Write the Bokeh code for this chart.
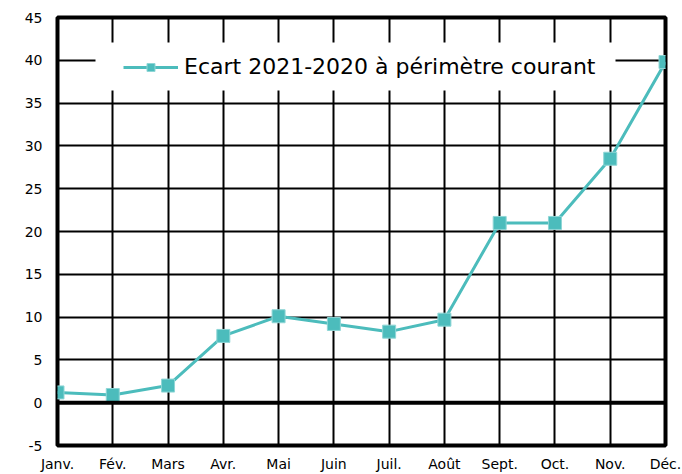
from bokeh.plotting import figure
from bokeh.models import FixedTicker, Span, Legend, LegendItem, CustomJSTickFormatter, BoxAnnotation
from bokeh.embed import file_html
from bokeh.resources import INLINE

months = ["Janv.", "Fév.", "Mars", "Avr.", "Mai", "Juin", "Juil.", "Août", "Sept.", "Oct.", "Nov.", "Déc."]
ecart = [1.2, 0.9, 2.0, 7.8, 10.1, 9.2, 8.3, 9.7, 21.0, 21.0, 28.5, 39.8]
y_ticks = [-5, 0, 5, 10, 15, 20, 25, 30, 35, 40, 45]
series_name = "Ecart 2021-2020 à périmètre courant"

xs = list(range(len(months)))
teal = "#4cbcbc"
font = "DejaVu Sans"

p = figure(width=682, height=474, output_backend="svg", toolbar_location=None,
           x_range=(0, len(months) - 1), y_range=(y_ticks[0], y_ticks[-1]),
           min_border_left=57, min_border_right=17, min_border_top=17, min_border_bottom=29)

p.outline_line_color = "black"
p.outline_line_width = 4
p.background_fill_color = "white"
p.border_fill_color = "white"

p.xaxis.ticker = FixedTicker(ticks=xs)
p.xaxis.formatter = CustomJSTickFormatter(args=dict(labels=months), code="return labels[Math.round(tick)];")
p.yaxis.ticker = FixedTicker(ticks=y_ticks)
p.yaxis.formatter = CustomJSTickFormatter(code="return String(Math.round(tick));")
for ax in (p.xaxis, p.yaxis):
    ax.axis_line_color = None
    ax.major_tick_line_color = None
    ax.minor_tick_line_color = None
    ax.major_tick_out = 0
    ax.major_tick_in = 0
    ax.minor_tick_out = 0
    ax.major_label_text_font = font
    ax.major_label_text_font_size = "14px"
    ax.major_label_text_color = "black"
p.xaxis.major_label_standoff = 10
p.yaxis.major_label_standoff = 15

p.xgrid.ticker = FixedTicker(ticks=xs)
p.ygrid.ticker = FixedTicker(ticks=y_ticks)
for g in (p.xgrid, p.ygrid):
    g.grid_line_color = "black"
    g.grid_line_width = 2
    g.grid_line_alpha = 1

p.add_layout(Span(location=0, dimension="width", line_color="black", line_width=4))

r_line = p.line(xs, ecart, line_color=teal, line_width=3)
r_mark = p.scatter(xs, ecart, marker="square", size=13, fill_color=teal, line_color="#8fd6d6", line_width=1)

# white panel behind the legend (screen units, relative to the plot frame)
p.add_layout(BoxAnnotation(left=38, right=558, bottom=355, top=403,
                           left_units="screen", right_units="screen",
                           bottom_units="screen", top_units="screen",
                           fill_color="white", fill_alpha=1, line_color=None))

legend = Legend(items=[LegendItem(label=series_name, renderers=[r_line, r_mark])],
                location=(66, 366), margin=0, padding=0, glyph_width=55, label_standoff=6,
                spacing=0, background_fill_alpha=0, border_line_color=None,
                label_text_font=font, label_text_font_size="22px", label_text_color="black")
p.add_layout(legend)

open("out.html", "w").write(file_html(p, INLINE))
